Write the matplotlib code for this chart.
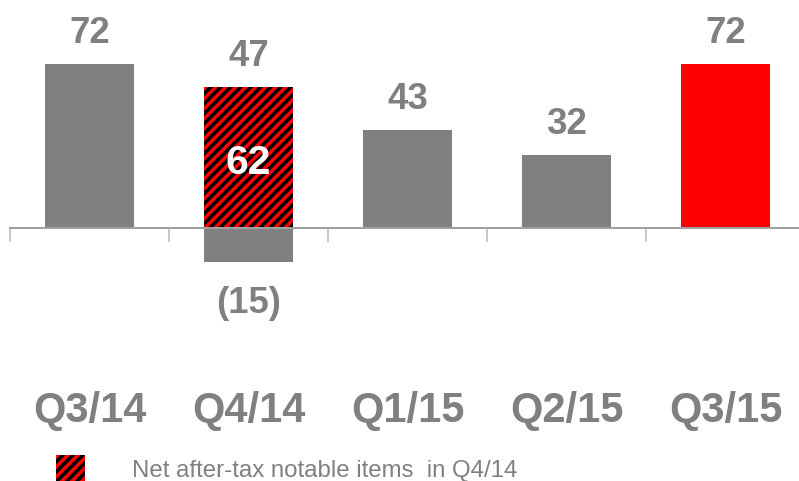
import matplotlib
matplotlib.use("Agg")
import matplotlib.pyplot as plt
from matplotlib.patches import Rectangle
from matplotlib.lines import Line2D
from matplotlib.transforms import IdentityTransform

categories = ["Q3/14", "Q4/14", "Q1/15", "Q2/15", "Q3/15"]
reported = [72, 47, 43, 32, 72]
base_values = [72, -15, 43, 32, 72]
notable_items = [0, 62, 0, 0, 0]
bar_colors = ["#808080", "#808080", "#808080", "#808080", "#FF0000"]
legend_label = "Net after-tax notable items  in Q4/14"

GRAY = "#808080"
DPI = 120
plt.rcParams["font.family"] = ["Liberation Sans", "DejaVu Sans"]

fig = plt.figure(figsize=(799 / DPI, 481 / DPI), dpi=DPI)
ax = fig.add_axes([0, 0, 1, 1])
ax.set_xlim(-0.563, 4.462)
ax.set_ylim(-111.07, 100.1)
ax.axis("off")


def stripe(patch, container, period=10.0, lw=2.1):
    """Fill a rectangular patch with red diagonal stripes (pixel-space pattern)."""
    bb = patch.get_window_extent(renderer=None)
    x0, y0, x1, y1 = bb.x0, bb.y0, bb.x1, bb.y1
    h = y1 - y0
    k = x0 - h - period
    while k < x1 + period:
        ln = Line2D([k, k + h + 4], [y0 - 2, y1 + 2], transform=IdentityTransform(),
                    color="#FF0000", lw=lw, solid_capstyle="butt", zorder=3)
        container.add_artist(ln)
        ln.set_clip_path(patch)
        k += period


x = list(range(len(categories)))
w = 0.56
ax.bar(x, base_values, width=w, color=bar_colors, linewidth=0, zorder=2)
hatched = ax.bar(x, notable_items, width=w, facecolor="black", linewidth=0, zorder=2)
fig.canvas.draw()
for p, n in zip(hatched.patches, notable_items):
    if n:
        stripe(p, ax)

# baseline and boundary ticks
ax.plot([-0.5, 4.6], [0, 0], color="#a0a0a0", lw=1.2, zorder=3, clip_on=False)
for b in [i - 0.5 for i in range(len(categories) + 1)]:
    ax.plot([b, b], [0, -5.7], color="#c8c8c8", lw=1.2, zorder=1)

fs_val = 22
for i, (r, bv, n) in enumerate(zip(reported, base_values, notable_items)):
    top = max(bv, n, 0)
    ax.text(i, top + 9.2, f"{r}", ha="center", va="baseline", fontsize=fs_val,
            fontweight="bold", color=GRAY)
    if n:
        ax.text(i, n / 2 - 7.4, f"{n}", ha="center", va="baseline", fontsize=24.5,
                fontweight="bold", color="white", zorder=4)
    if bv < 0:
        ax.text(i, bv - 22.3, f"({abs(bv)})", ha="center", va="baseline",
                fontsize=fs_val, fontweight="bold", color=GRAY)
    ax.text(i, -85.2, categories[i], ha="center", va="baseline", fontsize=25,
            fontweight="bold", color=GRAY)

# legend
leg_patch = Rectangle((56 / 799, 0), 29 / 799, 26 / 481,
                      transform=fig.transFigure, facecolor="black", linewidth=0)
fig.patches.append(leg_patch)
leg_patch.set_figure(fig)
stripe(leg_patch, fig)
fig.text(132 / 799, 1 - 477 / 481, legend_label, ha="left", va="baseline",
         fontsize=14.4, color=GRAY)

fig.savefig("out.png", dpi=DPI)
